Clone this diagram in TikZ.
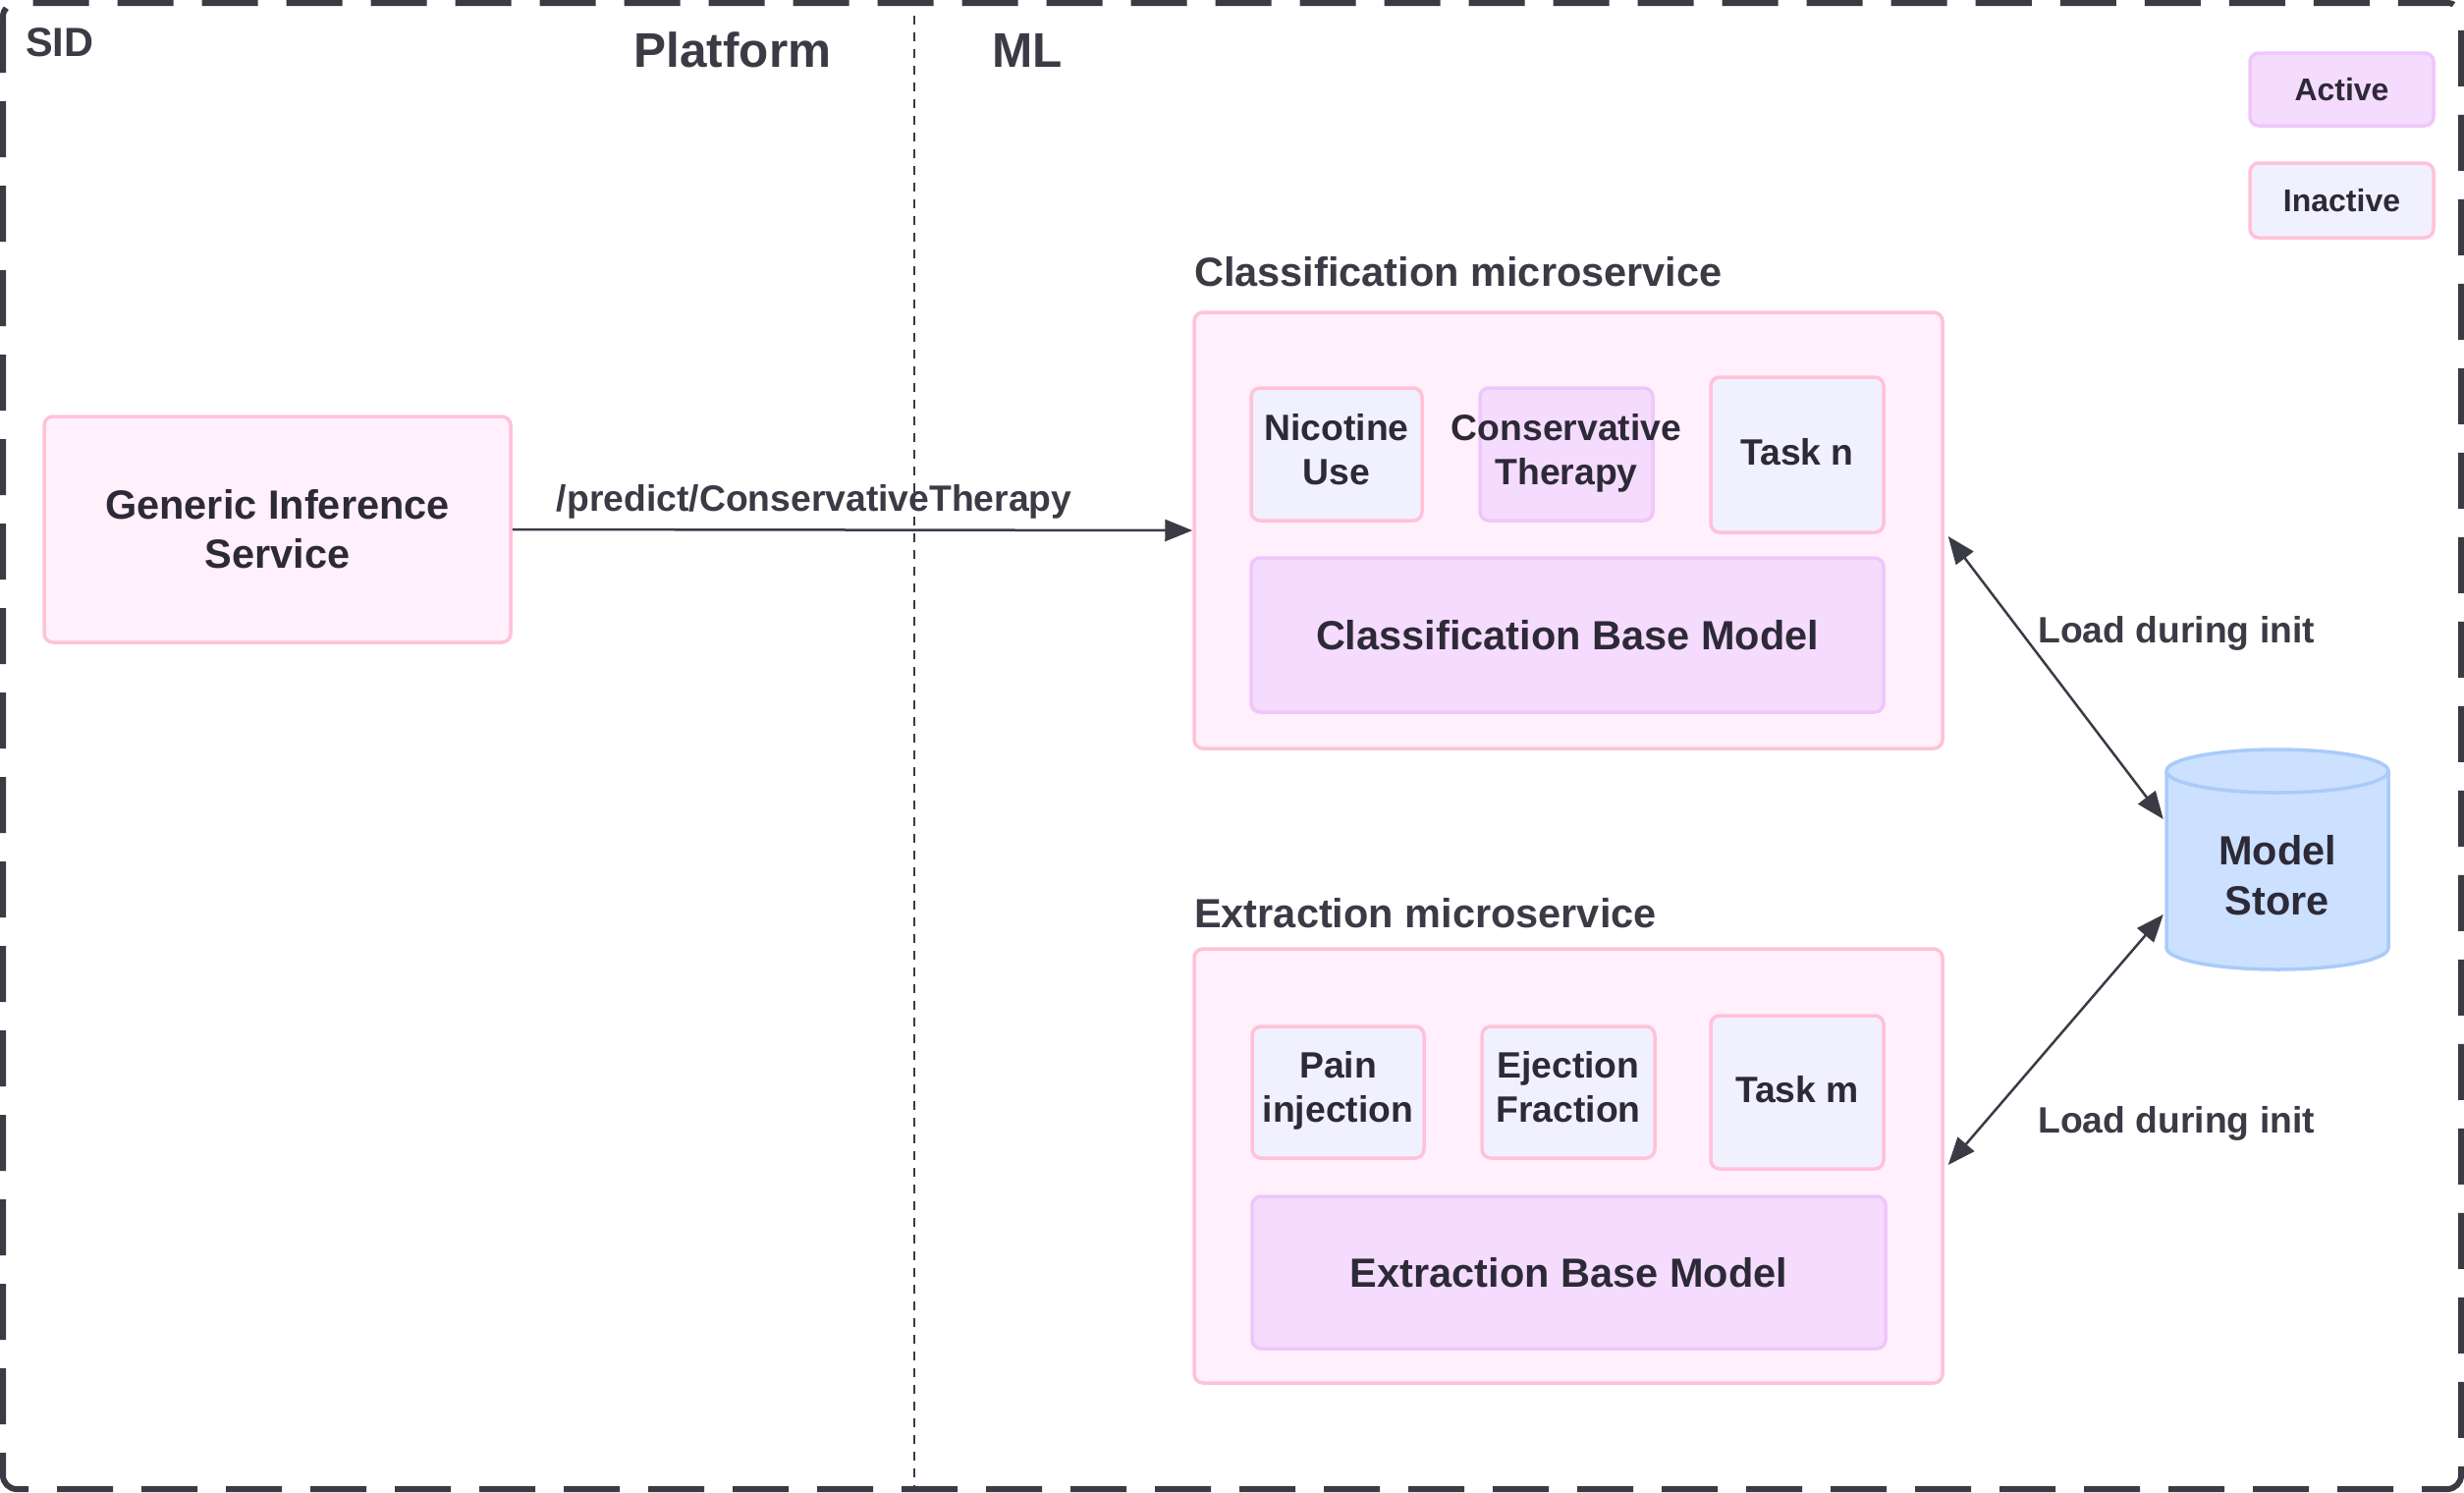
\documentclass[tikz,border=0pt]{standalone}
\usepackage{fontspec}
\setmainfont{Liberation Sans}
\usetikzlibrary{arrows.meta,calc}
\definecolor{ink}{HTML}{2D2A38}
\definecolor{frame}{HTML}{3A3B45}
\definecolor{pinkfill}{HTML}{FFF0FB}
\definecolor{pinkline}{HTML}{FFC2D8}
\definecolor{inactfill}{HTML}{F1F0FF}
\definecolor{actfill}{HTML}{F5DBFD}
\definecolor{actline}{HTML}{EFC6FA}
\definecolor{cylfill}{HTML}{CCE0FF}
\definecolor{cylline}{HTML}{A9CBFA}
\newcommand\myfs[2]{\fontsize{#1}{#2}\selectfont\bfseries}
\newcommand\mydepth[1]{\rule[-#1pt]{0pt}{0pt}}
\begin{document}
\begin{tikzpicture}[x=1pt,y=-1pt,
  box/.style={draw, rounded corners=9pt, line width=3.5pt, inner sep=0pt, align=center, text=ink},
  svc/.style={box, fill=pinkfill, draw=pinkline},
  inact/.style={box, fill=inactfill, draw=pinkline, font=\myfs{37.3}{45}},
  act/.style={box, fill=actfill, draw=actline},
  conn/.style={draw=frame, line width=2.5pt},
  tip/.tip={Triangle[length=28pt,width=22pt]},
  ttl/.style={text=frame, inner sep=0pt, font=\myfs{41.5}{50}},
]
\useasboundingbox (0,0) rectangle (2509,1519);
% outer dashed border
\draw[frame, line width=6pt, dash pattern=on 57pt off 29pt, rounded corners=14pt] (3,3) rectangle (2506,1516);
% divider
\coordinate (divtop) at (931,16);
\coordinate (divbot) at (931,1516);
\draw[frame, line width=1.8pt, dash pattern=on 9pt off 8pt] (divtop) -- (divbot);
% headings
\node[ttl, anchor=west] (sid) at (26,43) {SID};
\node[ttl, font=\myfs{49.5}{58}] (plat) at (746,51) {Platform};
\node[ttl, font=\myfs{49.5}{58}] (ml) at (1046,51) {ML};
% legend
\node[act, font=\myfs{32}{38}, minimum width=187pt, minimum height=74pt] (lact) at (2384.5,91) {Active};
\node[inact, font=\myfs{32}{38}, minimum width=187pt, minimum height=76pt] (linact) at (2384.5,204) {Inactive};
% generic
\node[svc, font=\myfs{41.5}{50}, minimum width=475pt, minimum height=230pt] (gen) at (282.5,539) {Generic Inference\\Service};
% classification
\node[ttl, anchor=west] (clst) at (1216,277) {Classification microservice};
\node[svc, minimum width=762pt, minimum height=444pt] (cls) at (1597,540) {};
\node[inact, minimum width=174pt, minimum height=135pt] (nic) at (1361,462.5) {Nicotine\\Use\mydepth{11}};
\node[act, font=\myfs{37.3}{45}, minimum width=176pt, minimum height=135pt] (con) at (1595,462.5) {\makebox[0pt]{Conservative}\\\makebox[0pt]{Therapy}\mydepth{11}};
\node[inact, minimum width=176pt, minimum height=158pt] (tn) at (1830,463) {Task n\mydepth{6}};
\node[act, font=\myfs{41.5}{50}, minimum width=644pt, minimum height=157pt] (cbm) at (1596,646.5) {Classification Base Model};
% extraction
\node[ttl, anchor=west] (extt) at (1216,930) {Extraction microservice};
\node[svc, minimum width=762pt, minimum height=442pt] (ext) at (1597,1187) {};
\node[inact, minimum width=175pt, minimum height=134pt] (pain) at (1362.5,1112) {Pain\\injection\mydepth{12}};
\node[inact, minimum width=176pt, minimum height=134pt] (ej) at (1597,1112) {Ejection\\Fraction\mydepth{11}};
\node[inact, minimum width=176pt, minimum height=156pt] (tm) at (1830,1112) {Task m\mydepth{6}};
\node[act, font=\myfs{41.5}{50}, minimum width=645pt, minimum height=155pt] (ebm) at (1597.5,1295.5) {Extraction Base Model};
% model store cylinder
\path[fill=cylfill, draw=cylline, line width=3.5pt]
  (2206,785) -- (2206,965) arc[start angle=180, end angle=360, x radius=113pt, y radius=22pt]
  -- (2432,785) arc[start angle=0, end angle=180, x radius=113pt, y radius=22pt] -- cycle;
\draw[cylline, line width=3.5pt] (2206,785) arc[start angle=180, end angle=360, x radius=113pt, y radius=22pt];
\node[inner sep=0pt, minimum width=226pt, minimum height=224pt, align=center, text=ink, font=\myfs{41.5}{51}] (store) at (2319,891) {Model\\Store};
\coordinate (sa) at ($(store.west)+(-3,-57)$);
\coordinate (sb) at ($(store.west)+(-3,40)$);
% connectors
\draw[conn, -{tip}] (gen.east) -- node[pos=0.444, above=10pt, text=frame, font=\myfs{37.3}{45}, inner sep=0pt] (lbl) {/predict/ConservativeTherapy} (cls.west);
\draw[conn, {tip}-{tip}] ($(cls.east)+(4,6)$) -- (sa);
\draw[conn, {tip}-{tip}] (sb) -- ($(ext.east)+(4,-1)$);
\node[text=frame, anchor=west, inner sep=0pt, font=\myfs{37.3}{45}] (l1) at (2075,645) {Load during init};
\node[text=frame, anchor=west, inner sep=0pt, font=\myfs{37.3}{45}] (l2) at (2075,1144) {Load during init};
\end{tikzpicture}
\end{document}
